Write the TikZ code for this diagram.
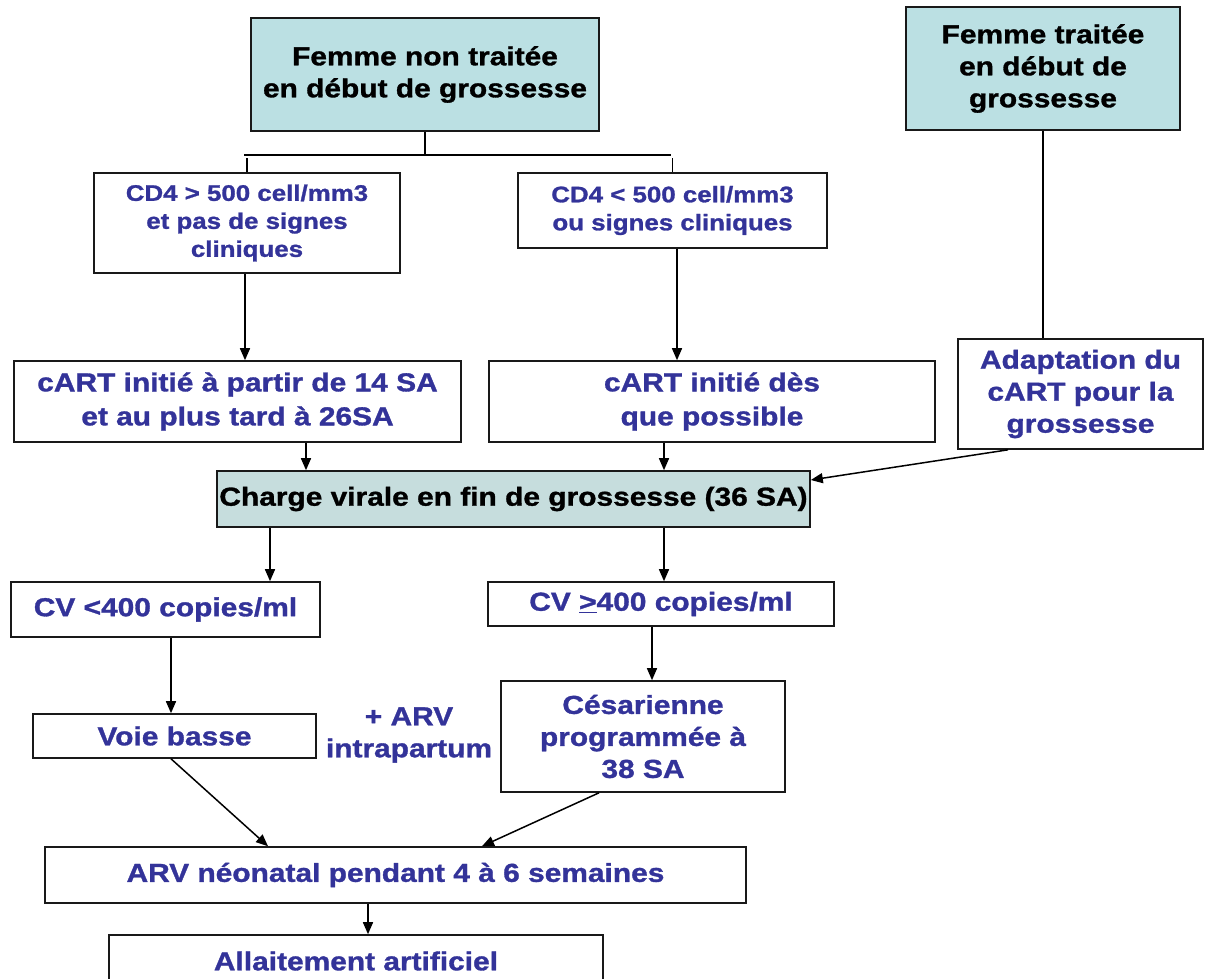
\documentclass[tikz,border=0pt]{standalone}
\usepackage{fontspec}
\setmainfont{Liberation Sans}[FakeStretch=1.15,FakeBold=1.2]
\usetikzlibrary{arrows.meta}
\definecolor{titlefill}{RGB}{187,224,227}
\definecolor{chargefill}{RGB}{198,221,221}
\definecolor{txtblue}{RGB}{51,51,153}
\tikzset{
  box/.style={draw=black!90, line width=1.6pt, inner sep=0pt, align=center,
    font=\bfseries\fontsize{26}{32}\selectfont, text=txtblue},
  titlebox/.style={box, fill=titlefill, text=black},
  smalltext/.style={font=\bfseries\fontsize{22.5}{28}\selectfont},
  arr/.style={line width=1.5pt, -{Triangle[length=12pt,width=10pt]}},
  link/.style={line width=1.5pt}
}
\begin{document}
\begin{tikzpicture}[x=1pt,y=-1pt]
\useasboundingbox (0,0) rectangle (1205,978);
% debut de grossesse
\node[titlebox, minimum width=348, minimum height=113] (nontraitee) at (425,74.5) {Femme non traitée\\en début de grossesse};
\node[titlebox, minimum width=274, minimum height=123] (traitee) at (1043,68.5) {Femme traitée\\en début de\\grossesse};
\node[box, smalltext, minimum width=306, minimum height=100] (cd4hi) at (247,223) {CD4 > 500 cell/mm3\\et pas de signes\\cliniques};
\node[box, smalltext, minimum width=309, minimum height=75] (cd4lo) at (672.5,210.5) {CD4 < 500 cell/mm3\\ou signes cliniques};
\node[box, minimum width=447, minimum height=81, font=\bfseries\fontsize{26}{34}\selectfont] (cart1) at (237.5,401.5) {cART initié à partir de 14 SA\\et au plus tard à 26SA};
\node[box, minimum width=446, minimum height=81, font=\bfseries\fontsize{26}{34}\selectfont] (cart2) at (712,401.5) {cART initié dès\\que possible};
\node[box, minimum width=245, minimum height=110] (adapt) at (1080.5,394) {Adaptation du\\cART pour la\\grossesse};
% fin de grossesse
\node[box, fill=chargefill, text=black, minimum width=593, minimum height=56] (charge) at (513.5,499) {Charge virale en fin de grossesse (36 SA)};
\node[box, minimum width=309, minimum height=55] (cvlo) at (165.5,609.5) {CV <400 copies/ml};
\node[box, minimum width=346, minimum height=44] (cvhi) at (661,604) {CV \underline{>}400 copies/ml};
\node[box, minimum width=283, minimum height=44] (voie) at (174.5,736) {Voie basse};
\node[align=center, inner sep=0pt, text=txtblue, font=\bfseries\fontsize{26}{32}\selectfont] (arvintra) at (409,735) {+ ARV\\intrapartum};
\node[box, minimum width=284, minimum height=111] (cesar) at (643,736.5) {Césarienne\\programmée à\\38 SA};
\node[box, minimum width=701, minimum height=56] (neonat) at (395.5,875) {ARV néonatal pendant 4 à 6 semaines};
\node[box, minimum width=494, minimum height=52] (allait) at (356,961) {Allaitement artificiel};
% fourche
\coordinate (forkL) at (244,155);
\coordinate (forkR) at (671,155);
\draw[link] (nontraitee.south) -- (nontraitee.south |- forkL);
\draw[link] (forkL) -- (forkR);
\draw[link] (cd4hi.north) -- ++(0,-14);
\draw[link] (cd4lo.north) -- ++(0,-14);
% connecteurs
\draw[arr] ([xshift=-2]cd4hi.south) -- ([xshift=-2]cd4hi.south |- cart1.north);
\draw[arr] ([xshift=4.5]cd4lo.south) -- ([xshift=4.5]cd4lo.south |- cart2.north);
\draw[link] (traitee.south) -- (traitee.south |- adapt.north);
\draw[arr] ([xshift=68.5]cart1.south) -- ([xshift=68.5]cart1.south |- charge.north);
\draw[arr] ([xshift=-48]cart2.south) -- ([xshift=-48]cart2.south |- charge.north);
\draw[arr] ([xshift=-72.5]adapt.south) -- ([yshift=19]charge.east);
\draw[arr] ([xshift=-243.5]charge.south) -- ([xshift=-243.5]charge.south |- cvlo.north);
\draw[arr] ([xshift=3]cvhi.north |- charge.south) -- ([xshift=3]cvhi.north);
\draw[arr] ([xshift=5.5]cvlo.south) -- ([xshift=5.5]cvlo.south |- voie.north);
\draw[arr] ([xshift=-9]cvhi.south) -- ([xshift=-9]cvhi.south |- cesar.north);
\draw[arr] ([xshift=-3.5]voie.south) -- ([xshift=-127.5]neonat.north);
\draw[arr] ([xshift=-44]cesar.south) -- ([xshift=86.5]neonat.north);
\draw[arr] ([xshift=-27.5]neonat.south) -- ([xshift=-27.5]neonat.south |- allait.north);
\end{tikzpicture}
\end{document}
